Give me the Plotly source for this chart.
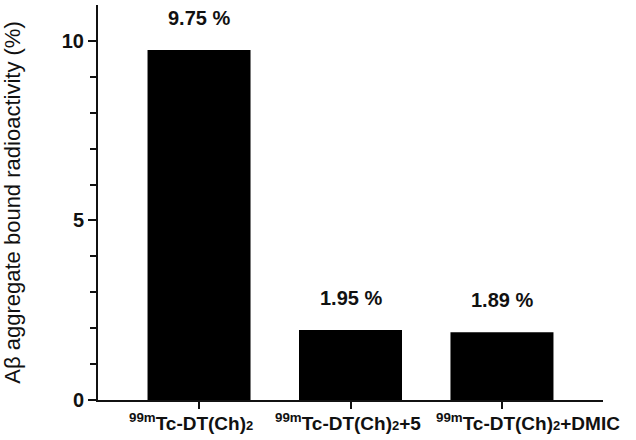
import plotly.graph_objects as go

SUB2 = "<span style='font-size:13px'>2</span>"
categories = ["<sup>99m</sup>Tc-DT(Ch)" + SUB2,
              "<sup>99m</sup>Tc-DT(Ch)" + SUB2 + "+5",
              "<sup>99m</sup>Tc-DT(Ch)" + SUB2 + "+DMIC"]
values = [9.75, 1.95, 1.89]
labels = ["9.75 %", "1.95 %", "1.89 %"]

# horizontal nudges of the category captions (layout only)
caption_xshift = [-8, -3, 26]

FONT = "Liberation Sans, Arial, sans-serif"

fig = go.Figure()
fig.add_trace(go.Bar(x=categories, y=values, marker=dict(color="black", line=dict(width=0)),
                     width=0.68, showlegend=False))

for c, v, t in zip(categories, values, labels):
    fig.add_annotation(x=c, y=v, text=t, showarrow=False, yshift=32, yanchor="middle",
                       font=dict(family=FONT, size=20, color="#111", weight="bold"))

for c, dx in zip(categories, caption_xshift):
    fig.add_annotation(x=c, y=0, yref="paper", text=c, showarrow=False, yanchor="middle",
                       yshift=-22, xshift=dx,
                       font=dict(family=FONT, size=19, color="#111", weight="bold"))

fig.update_layout(
    width=636, height=440,
    margin=dict(l=98, r=33, t=5, b=40),
    paper_bgcolor="white", plot_bgcolor="white",
    xaxis=dict(range=[-0.667, 2.667], showline=True, linecolor="#111", linewidth=2,
               ticks="outside", ticklen=7, tickwidth=2, tickcolor="#111",
               showticklabels=False,
               showgrid=False, zeroline=False, automargin=False),
    yaxis=dict(range=[0, 11], showline=True, linecolor="#111", linewidth=2,
               tickvals=[0, 5, 10], ticks="outside", ticklen=8, tickwidth=2, tickcolor="#111",
               minor=dict(tickvals=[1, 2, 3, 4, 6, 7, 8, 9], ticks="outside", ticklen=6,
                          tickwidth=2, tickcolor="#111"),
               tickfont=dict(family=FONT, size=20, color="#111", weight="bold"),
               title=dict(text="Aβ aggregate bound radioactivity (%)", standoff=36,
                          font=dict(family=FONT, size=22, color="#111")),
               showgrid=False, zeroline=False, automargin=False),
)

fig.write_html("out.html", config={"displayModeBar": False},
               post_script="document.body.style.margin='0px';")
